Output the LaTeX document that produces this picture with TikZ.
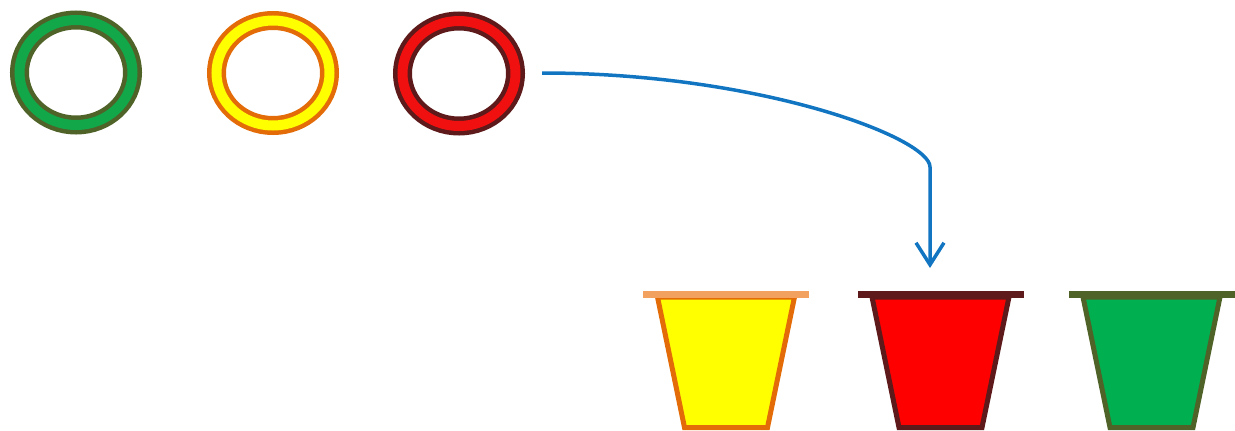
\documentclass[tikz,border=0pt]{standalone}
\usetikzlibrary{shapes.geometric,arrows.meta}
\definecolor{ringgreen}{HTML}{12A84A}
\definecolor{olivebd}{HTML}{4F6228}
\definecolor{ringyellow}{HTML}{FFFF00}
\definecolor{orangebd}{HTML}{E36C09}
\definecolor{rimorange}{HTML}{F2A25E}
\definecolor{ringred}{HTML}{F01010}
\definecolor{darkredbd}{HTML}{5E1A1A}
\definecolor{bucketgreen}{HTML}{00B050}
\definecolor{arrowblue}{HTML}{1275C2}
\tikzset{
  ring/.style 2 args={ellipse, draw=#1, double=#2, line width=4.5pt, double distance=10pt,
    minimum width=113pt, minimum height=105pt, inner sep=0pt, outer sep=0pt},
  bucketbody/.style 2 args={fill=#1, draw=#2, line width=5pt, line join=miter},
  bucketrim/.style={fill=#1, draw=none},
  flow/.style={draw=arrowblue, line width=3.5pt, -{Straight Barb[length=22pt,width=28pt]}},
  pics/bucket/.style n args={3}{code={
    \path[bucketbody={#1}{#2}] (-68.5,297) -- (68.5,297) -- (41.5,427.5) -- (-41.5,427.5) -- cycle;
    \path[bucketrim={#3}] (-83,291) rectangle (83,297.5);
  }}
}
\begin{document}
\begin{tikzpicture}[x=1pt,y=-1pt]
\useasboundingbox (0,0) rectangle (1235,431);
\node[ring={olivebd}{ringgreen}] (gring) at (76,72.5) {};
\node[ring={orangebd}{ringyellow}] (yring) at (273,73) {};
\node[ring={darkredbd}{ringred}] (rring) at (459,73.5) {};
\pic (ybucket) at (726,0) {bucket={ringyellow}{orangebd}{rimorange}};
\pic (rbucket) at (940.5,0) {bucket={red}{darkredbd}{darkredbd}};
\pic (gbucket) at (1151.5,0) {bucket={bucketgreen}{olivebd}{olivebd}};
\coordinate (start) at (542,73);
\coordinate (bend) at (930,167);
\coordinate (tip) at (930,268);
\draw[flow] (start) .. controls (760,73) and (930,138) .. (bend) -- (tip);
\end{tikzpicture}
\end{document}
